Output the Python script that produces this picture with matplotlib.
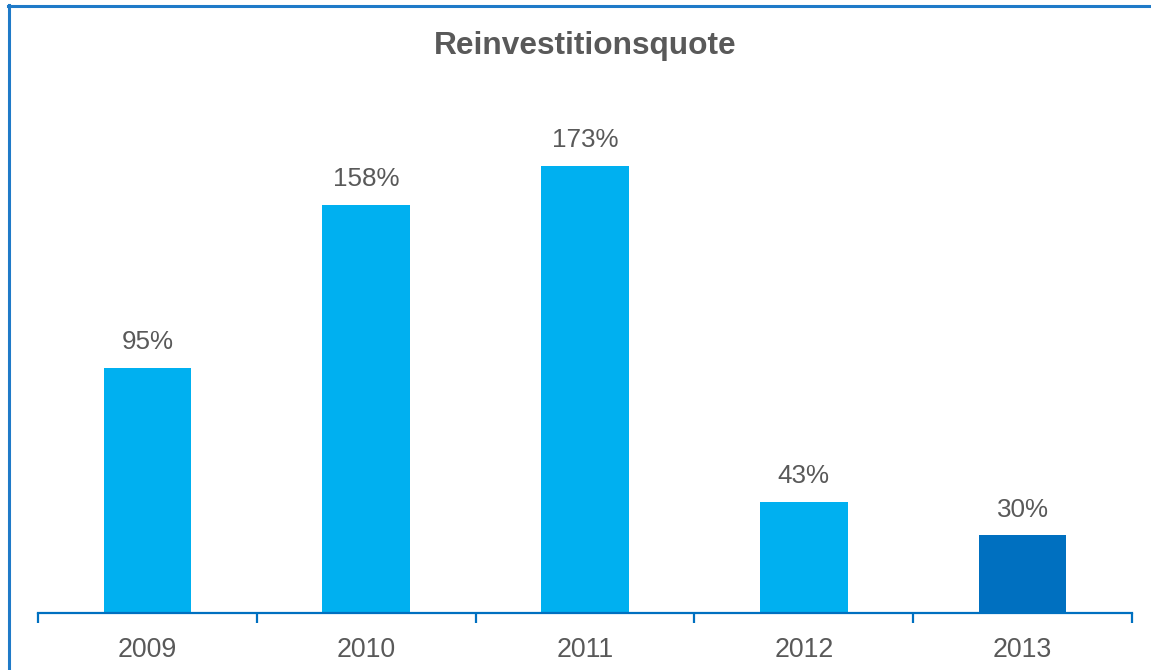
import matplotlib
matplotlib.use("Agg")
import matplotlib.pyplot as plt
from matplotlib.lines import Line2D

years = ["2009", "2010", "2011", "2012", "2013"]
values = [95, 158, 173, 43, 30]
labels = ["95%", "158%", "173%", "43%", "30%"]
colors = ["#00B0F0", "#00B0F0", "#00B0F0", "#00B0F0", "#0070C0"]

plt.rcParams['font.family'] = ['Liberation Sans', 'DejaVu Sans']

W, H = 1151, 670
fig = plt.figure(figsize=(W / 100, H / 100), dpi=100)
fig.patch.set_facecolor("white")

# frame lines (left and top)
fig.add_artist(Line2D([9 / W, 9 / W], [0, 1 - 5 / H], color="#1F7AC8", lw=2.2, transform=fig.transFigure))
fig.add_artist(Line2D([8 / W, 1], [1 - 5.5 / H, 1 - 5.5 / H], color="#1F7AC8", lw=2.2, transform=fig.transFigure))

ax_l, ax_r = 38 / W, 1132 / W
ax_b = (H - 613) / H
ax_t = (H - 95) / H
ax = fig.add_axes([ax_l, ax_b, ax_r - ax_l, ax_t - ax_b])
ax.set_facecolor("none")

x = list(range(len(years)))
ax.bar(x, values, width=0.4, color=colors, zorder=2)
ax.set_xlim(-0.5, len(years) - 0.5)
ax.set_ylim(0, 200.5)

for xi, v, lab in zip(x, values, labels):
    ax.annotate(lab, (xi, v), xytext=(0, 10), textcoords="offset points",
                ha="center", va="bottom", fontsize=18.7, color="#595959")

for s in ["top", "right", "left"]:
    ax.spines[s].set_visible(False)
ax.spines["bottom"].set_color("#0070C0")
ax.spines["bottom"].set_linewidth(1.6)
ax.set_yticks([])
ax.set_xticks([i - 0.5 for i in range(len(years) + 1)], minor=False)
ax.set_xticklabels([])
ax.tick_params(axis="x", which="major", length=7, width=1.6, color="#0070C0", direction="out")
ax.set_xticks(x, minor=True)
ax.set_xticklabels(years, minor=True)
ax.tick_params(axis="x", which="minor", length=0, labelsize=19.3, labelcolor="#595959", pad=17)

fig.text(585 / W, 1 - 46 / H, "Reinvestitionsquote", ha="center", va="center",
         fontsize=22.8, fontweight="bold", color="#595959")

fig.savefig("out.png", dpi=100, facecolor="white")
